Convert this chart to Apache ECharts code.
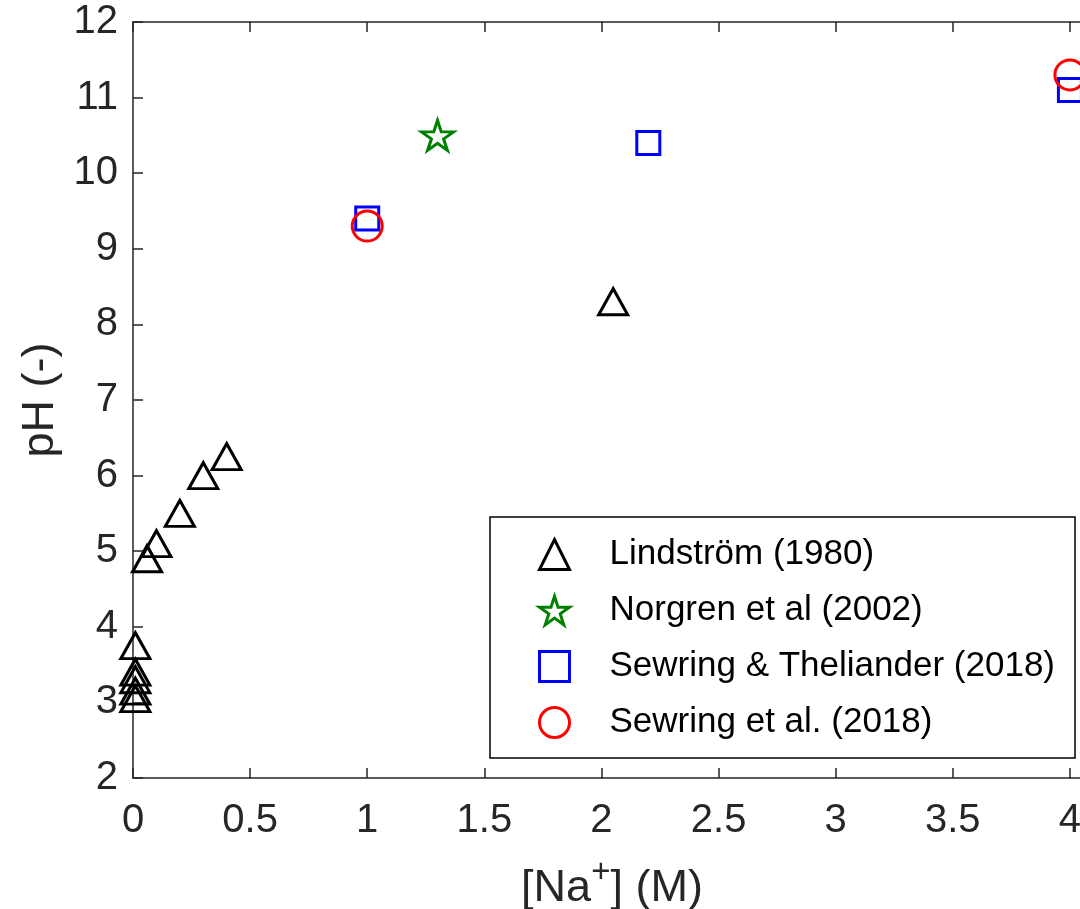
<!DOCTYPE html>
<html>
<head>
<meta charset="utf-8">
<script src="https://cdn.jsdelivr.net/npm/echarts@6/dist/echarts.min.js"></script>
<style>
html,body{margin:0;padding:0;background:#fff;overflow:hidden;}
#chart{width:1080px;height:909px;}
</style>
</head>
<body>
<div id="chart"></div>
<script>
// ---- data ----
const seriesNames = ['Lindström (1980)', 'Norgren et al (2002)', 'Sewring & Theliander (2018)', 'Sewring et al. (2018)'];
const lindstromX = [0.01, 0.01, 0.01, 0.01, 0.01, 0.06, 0.1, 0.2, 0.3, 0.4, 2.05];
const lindstromY = [3.05, 3.15, 3.3, 3.4, 3.75, 4.9, 5.1, 5.5, 6.0, 6.25, 8.3];
const norgrenX = [1.3];
const norgrenY = [10.5];
const sewringThelianderX = [1.0, 2.2, 4.0];
const sewringThelianderY = [9.4, 10.4, 11.1];
const sewringEtAlX = [1.0, 4.0];
const sewringEtAlY = [9.3, 11.3];
const xMin = 0, xMax = 4.09, xStep = 0.5;
const yMin = 2, yMax = 12, yStep = 1;
const xTitle = '[Na{sup|+}] (M)';
const yTitle = 'pH (-)';

const pairs = (xs, ys) => xs.map((x, i) => [x, ys[i]]);
const starPath = 'path://M50 0 L61.227 34.549 L97.553 34.549 L68.164 55.902 L79.389 90.451 L50 69.1 L20.611 90.451 L31.836 55.902 L2.447 34.549 L38.773 34.549 Z';

const axisColor = '#262626';
const font = 'Liberation Sans, Arial, sans-serif';

const chart = echarts.init(document.getElementById('chart'), null, {renderer: 'canvas'});
chart.setOption({
  animation: false,
  backgroundColor: '#fff',
  grid: {left: 133, top: 22, width: 958, height: 756, containLabel: false, outerBoundsMode: 'none'},
  xAxis: [{
    type: 'value', min: xMin, max: xMax, interval: xStep,
    position: 'bottom',
    axisLine: {show: true, lineStyle: {color: axisColor, width: 1.5}},
    axisTick: {show: true, inside: true, length: 10, lineStyle: {color: axisColor, width: 1.5}},
    axisLabel: {show: true, margin: 23, color: axisColor, fontSize: 40, fontFamily: font, showMaxLabel: false},
    splitLine: {show: false},
    name: xTitle, nameLocation: 'middle', nameGap: 78,
    nameTextStyle: {color: axisColor, fontSize: 45, fontFamily: font,
      rich: {sup: {fontSize: 33, fontFamily: font, color: axisColor, verticalAlign: 'top', padding: [0, 0, 32, 0]}}}
  }, {
    type: 'value', min: xMin, max: xMax, interval: xStep,
    position: 'top',
    axisLine: {show: true, lineStyle: {color: axisColor, width: 1.5}},
    axisTick: {show: true, inside: true, length: 10, lineStyle: {color: axisColor, width: 1.5}},
    axisLabel: {show: false},
    splitLine: {show: false}
  }],
  yAxis: [{
    type: 'value', min: yMin, max: yMax, interval: yStep,
    position: 'left',
    axisLine: {show: true, lineStyle: {color: axisColor, width: 1.5}},
    axisTick: {show: true, inside: true, length: 10, lineStyle: {color: axisColor, width: 1.5}},
    axisLabel: {show: true, margin: 15, color: axisColor, fontSize: 40, fontFamily: font},
    splitLine: {show: false},
    name: yTitle, nameLocation: 'middle', nameGap: 70,
    nameTextStyle: {color: axisColor, fontSize: 45, fontFamily: font}
  }],
  legend: {
    show: true, orient: 'vertical', left: 490, top: 517,
    padding: [20, 20, 18, 48],
    itemWidth: 30, itemHeight: 30, itemGap: 21,
    borderColor: '#000', borderWidth: 1.5, backgroundColor: '#fff',
    itemStyle: {borderWidth: 3, opacity: 1},
    textStyle: {color: '#000', fontSize: 35, fontFamily: font, lineHeight: 35,
      rich: {sp: {width: 35}}},
    formatter: name => '{sp| }' + name,
    data: seriesNames
  },
  series: [{
    name: seriesNames[0], type: 'scatter', data: pairs(lindstromX, lindstromY),
    symbol: 'triangle', symbolSize: [29, 26],
    itemStyle: {color: 'rgba(0,0,0,0)', borderColor: '#000', borderWidth: 3, opacity: 1}
  }, {
    name: seriesNames[1], type: 'scatter', data: pairs(norgrenX, norgrenY),
    symbol: starPath, symbolSize: [32, 30],
    itemStyle: {color: 'rgba(0,0,0,0)', borderColor: '#008000', borderWidth: 3, opacity: 1}
  }, {
    name: seriesNames[2], type: 'scatter', data: pairs(sewringThelianderX, sewringThelianderY),
    symbol: 'rect', symbolSize: 23,
    itemStyle: {color: 'rgba(0,0,0,0)', borderColor: '#0000ff', borderWidth: 3, opacity: 1}
  }, {
    name: seriesNames[3], type: 'scatter', data: pairs(sewringEtAlX, sewringEtAlY),
    symbol: 'circle', symbolSize: 30,
    itemStyle: {color: 'rgba(0,0,0,0)', borderColor: '#ff0000', borderWidth: 3, opacity: 1}
  }]
});
</script>
</body>
</html>
